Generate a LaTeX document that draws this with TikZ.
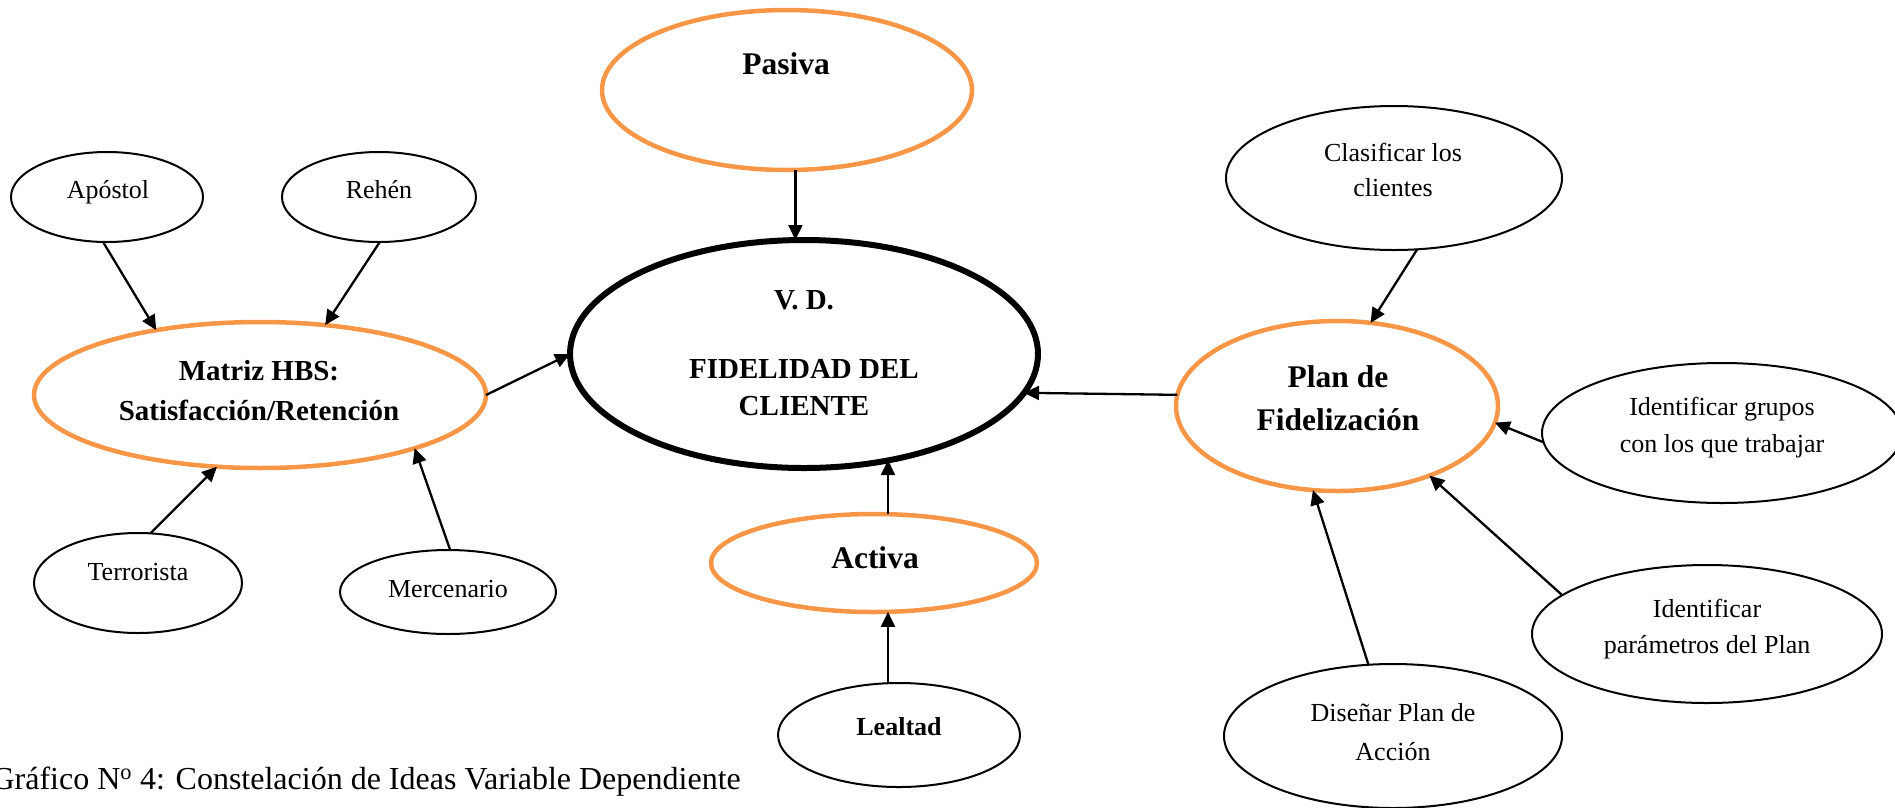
\documentclass[tikz,border=0pt]{standalone}
\usepackage{fontspec}
\setmainfont{Liberation Serif}
\usetikzlibrary{shapes.geometric,arrows.meta}
\definecolor{orng}{RGB}{247,150,70}
\begin{document}
\begin{tikzpicture}[x=1pt,y=-1pt,
  ell/.style={ellipse,draw=black,inner sep=0pt,outer sep=0pt,line width=2pt},
  oell/.style={ellipse,draw=orng,inner sep=0pt,outer sep=0pt,line width=4.5pt},
  bell/.style={ellipse,draw=black,inner sep=0pt,outer sep=0pt,line width=6pt},
  txt/.style={anchor=base,inner sep=0pt,font=\fontsize{26}{30}\selectfont},
  btxt/.style={anchor=base,inner sep=0pt,font=\fontsize{29}{34}\selectfont\bfseries},
  bbtxt/.style={anchor=base,inner sep=0pt,font=\fontsize{31.5}{36}\selectfont\bfseries},
  arr/.style={-{Triangle[length=15pt,width=14pt]},line width=2.3pt}]
\useasboundingbox (0,0) rectangle (1895,807);

% ellipses
\node[ell,  minimum width=192pt, minimum height=90pt]  (apo)  at (107,197) {};
\node[ell,  minimum width=194pt, minimum height=90pt]  (reh)  at (379,197) {};
\node[oell, minimum width=452pt, minimum height=146pt] (mat)  at (260,395) {};
\node[ell,  minimum width=208pt, minimum height=100pt] (ter)  at (138,583) {};
\node[ell,  minimum width=216pt, minimum height=84pt]  (mer)  at (448,592) {};
\node[oell, minimum width=370pt, minimum height=160pt] (pas)  at (787,90)  {};
\node[bell, minimum width=468pt, minimum height=228pt] (vd)   at (804,354) {};
\node[oell, minimum width=326pt, minimum height=98pt]  (act)  at (874,563) {};
\node[ell,  minimum width=242pt, minimum height=104pt] (lea)  at (899,735) {};
\node[ell,  minimum width=336pt, minimum height=144pt] (cla)  at (1394,178) {};
\node[oell, minimum width=322pt, minimum height=170pt] (plan) at (1337,406) {};
\node[ell,  minimum width=360pt, minimum height=140pt] (grp)  at (1722,433) {};
\node[ell,  minimum width=350pt, minimum height=138pt] (par)  at (1707,634) {};
\node[ell,  minimum width=338pt, minimum height=144pt] (dis)  at (1393,736) {};

% texts
\node[txt] (tapo) at (108,198) {Apóstol};
\node[txt] (treh) at (379,198) {Rehén};
\node[btxt] (tmat1) at (259,380) {Matriz HBS:};
\node[btxt] (tmat2) at (259,420) {Satisfacción/Retención};
\node[txt] (tter) at (138,580) {Terrorista};
\node[txt] (tmer) at (448,597) {Mercenario};
\node[bbtxt] (tpas) at (786,74) {Pasiva};
\node[btxt] (tvd1) at (804,309) {V. D.};
\node[btxt] (tvd2) at (804,378) {FIDELIDAD DEL};
\node[btxt] (tvd3) at (804,415) {CLIENTE};
\node[bbtxt] (tact) at (875,568) {Activa};
\node[txt,font=\fontsize{26}{30}\selectfont\bfseries] (tlea) at (899,735) {Lealtad};
\node[txt] (tcla1) at (1393,161) {Clasificar los};
\node[txt] (tcla2) at (1393,196) {clientes};
\node[bbtxt] (tplan1) at (1338,387) {Plan de};
\node[bbtxt] (tplan2) at (1338,430) {Fidelización};
\node[txt] (tgrp1) at (1722,415) {Identificar grupos};
\node[txt] (tgrp2) at (1722,452) {con los que trabajar};
\node[txt] (tpar1) at (1707,617) {Identificar};
\node[txt] (tpar2) at (1707,653) {parámetros del Plan};
\node[txt] (tdis1) at (1393,721) {Diseñar Plan de};
\node[txt] (tdis2) at (1393,760) {Acción};
\node[anchor=base east,inner sep=0pt,font=\fontsize{32}{36}\selectfont] (cap) at (741,789)
  {Gráfico N\textsuperscript{o} 4: Constelación de Ideas Variable Dependiente};

% connectors
\draw[arr] (apo.265) -- (mat.148.7);
\draw[arr] (reh.271) -- (mat.47.5);
\draw[arr] (ter.76.5) -- (mat.239);
\draw[arr] (mer.87.3) -- (mat.341.6);
\draw[arr] (mat.0) -- (vd.180);
\draw[arr] (pas.-84.3) -- (pas.-84.3 |- vd.north);
\draw[arr] (act.74) -- (act.74 |- vd.-51.6);
\draw[arr] (lea.102) -- (lea.102 |- act.-74);
\draw[arr] (plan.176.4) -- (vd.-10.9);
\draw[arr] (cla.-72.5) -- (plan.68.6);
\draw[arr] (grp.183.2) -- (plan.-6.3);
\draw[arr] (par.165.7) -- (plan.-37.5);
\draw[arr] (dis.109.4) -- (plan.-106);
\end{tikzpicture}
\end{document}
